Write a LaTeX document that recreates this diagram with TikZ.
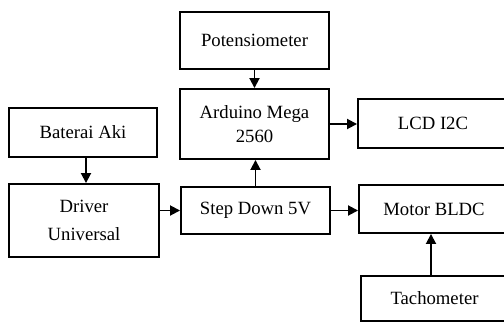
\documentclass[tikz,border=0pt]{standalone}
\usepackage{fontspec}
\setmainfont{Liberation Serif}
\usetikzlibrary{arrows.meta}
\begin{document}
\begin{tikzpicture}[x=1pt,y=-1pt,
  blk/.style={draw, line width=1.9pt, inner sep=0pt, align=center,
    font=\fontsize{18.7}{24}\selectfont},
  arr/.style={line width=1.8pt, -{Triangle[length=10pt,width=10pt]}}]
\useasboundingbox (0,0) rectangle (504,322);
\node[blk, minimum width=149pt, minimum height=57pt] (pot) at (254.5,40.5) {Potensiometer};
\node[blk, minimum width=149pt, minimum height=70pt] (ard) at (254.5,124) {Arduino Mega\\2560};
\node[blk, minimum width=150pt, minimum height=49pt] (lcd) at (433,123.5) {LCD I2C};
\node[blk, minimum width=148pt, minimum height=49pt] (bat) at (83,132.5) {Baterai Aki};
\node[blk, minimum width=150pt, minimum height=73pt, font=\fontsize{18.7}{28}\selectfont] (drv) at (84,220.5) {Driver\\Universal};
\node[blk, minimum width=149pt, minimum height=47pt] (step) at (255.5,210.5) {Step Down 5V};
\node[blk, minimum width=150pt, minimum height=48pt] (mot) at (434,209) {Motor BLDC};
\node[blk, minimum width=147pt, minimum height=45pt] (tach) at (434.5,298.5) {Tachometer};
\draw[arr] (pot.south) -- (pot.south |- ard.north);
\draw[arr] (ard.east) -- (ard.east -| lcd.west);
\draw[arr] ([xshift=3pt]bat.south) -- ([xshift=3pt]bat.south |- drv.north);
\draw[arr] (step.west -| drv.east) -- (step.west);
\draw[arr] (step.north) -- (step.north |- ard.south);
\draw[arr] (step.east) -- (step.east -| mot.west);
\draw[arr] ([xshift=-3.5pt]tach.north) -- ([xshift=-3.5pt]tach.north |- mot.south);
\end{tikzpicture}
\end{document}
